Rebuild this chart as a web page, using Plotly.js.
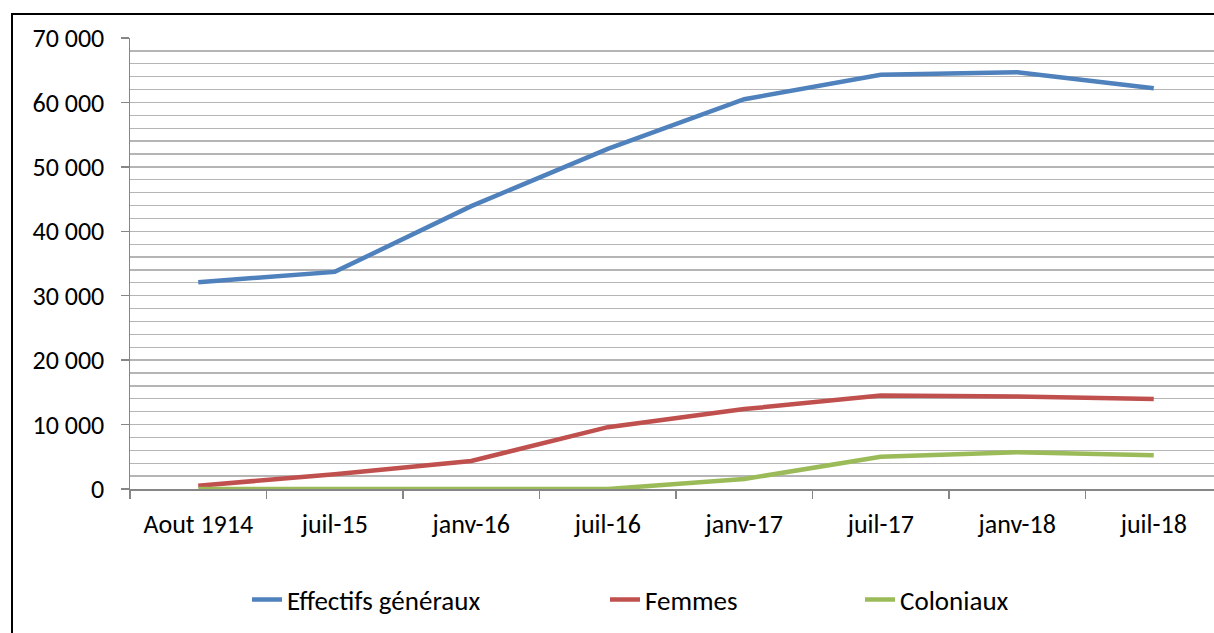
<!DOCTYPE html>
<html>
<head>
<meta charset="utf-8">
<script src="https://cdn.plot.ly/plotly-3.0.1.min.js"></script>
<style>
html,body{margin:0;padding:0;overflow:hidden;background:#fff;}
#frame{position:absolute;left:11px;top:13px;width:1300px;height:700px;border:2px solid #000;pointer-events:none;z-index:10;}
</style>
</head>
<body>
<div id="chart"></div>
<div id="frame"></div>
<script>
const categories = ["Aout 1914","juil-15","janv-16","juil-16","janv-17","juil-17","janv-18","juil-18"];
const effectifs = [32100, 33700, 43900, 52800, 60500, 64300, 64700, 62200];
const femmes = [500, 2300, 4350, 9600, 12400, 14500, 14350, 13950];
const coloniaux = [0, 0, 0, 0, 1550, 5000, 5700, 5250];
const seriesNames = ["Effectifs généraux", "Femmes", "Coloniaux"];

const FONT = "Carlito, Calibri, 'Liberation Sans', Arial, sans-serif";
const colors = ["#4F81BD", "#C0504D", "#9BBB59"];
const data = [effectifs, femmes, coloniaux].map((vals, i) => ({
  x: categories, y: vals, type: "scatter", mode: "lines", name: seriesNames[i],
  line: {color: colors[i], width: 4.5},
  legend: i === 0 ? "legend" : "legend" + (i + 1)
}));

const legendBase = {orientation: "h", yanchor: "middle", y: -0.246, xanchor: "left",
  font: {family: FONT, size: 27, color: "#000"}, bgcolor: "rgba(0,0,0,0)", borderwidth: 0};

const layout = {
  width: 1240, height: 633,
  margin: {l: 130, r: 18, t: 38, b: 144, autoexpand: false},
  paper_bgcolor: "#fff", plot_bgcolor: "#fff",
  separators: ", ",
  font: {family: FONT, size: 26, color: "#000"},
  showlegend: true,
  legend: Object.assign({}, legendBase, {x: (247 - 130) / 1092}),
  legend2: Object.assign({}, legendBase, {x: (605 - 130) / 1092}),
  legend3: Object.assign({}, legendBase, {x: (860 - 130) / 1092}),
  xaxis: {
    type: "category", showgrid: false, zeroline: false,
    showline: true, linecolor: "#868686", linewidth: 1.5,
    ticks: "outside", tickson: "boundaries", ticklen: 8, tickcolor: "#868686", tickwidth: 1.5,
    tickfont: {family: FONT, size: 26, color: "#000"},
    ticklabelstandoff: 11,
    range: [-0.5, 7.5]
  },
  yaxis: {
    range: [0, 70000], dtick: 10000, tickformat: ",.0f",
    showgrid: true, gridcolor: "#b5b5b5", gridwidth: 1.3,
    minor: {dtick: 2000, showgrid: true, gridcolor: "#b5b5b5", gridwidth: 1.3},
    zeroline: false,
    showline: true, linecolor: "#868686", linewidth: 1.5,
    ticks: "outside", ticklen: 8, tickcolor: "#868686", tickwidth: 1.5,
    tickfont: {family: FONT, size: 26, color: "#000"},
    ticklabelstandoff: 11
  }
};

Plotly.newPlot("chart", data, layout, {displayModeBar: false, staticPlot: true});
</script>
</body>
</html>
